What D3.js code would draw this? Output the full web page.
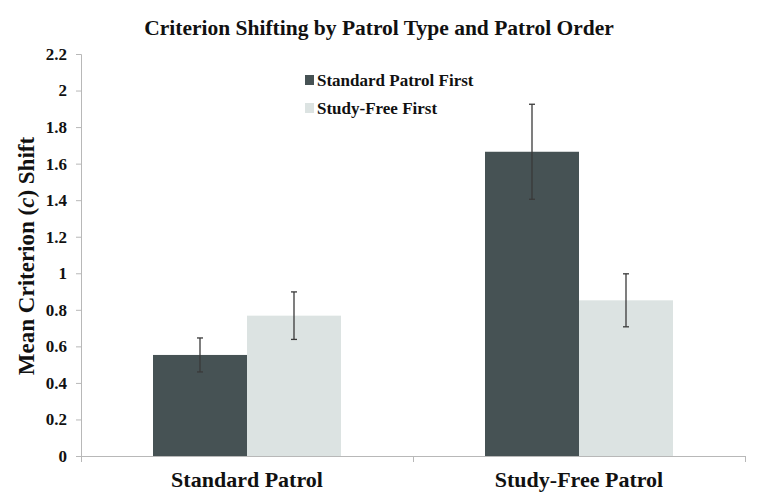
<!DOCTYPE html>
<html lang="en">
<head>
<meta charset="utf-8">
<title>Criterion Shifting</title>
<script src="https://d3js.org/d3.v7.min.js"></script>
<style>
  body { margin: 0; background: #fff; }
  text { font-family: "Liberation Serif", "Times New Roman", serif; font-weight: bold; fill: #111; }
</style>
</head>
<body>
<div id="chart"></div>
<script>
// chart data
var categories = ["Standard Patrol", "Study-Free Patrol"]
var seriesNames = ["Standard Patrol First", "Study-Free First"]
var standardFirst = [0.553, 1.665]
var standardFirstErr = [0.093, 0.26]
var studyFreeFirst = [0.768, 0.852]
var studyFreeFirstErr = [0.13, 0.145]
var yTicks = [0, 0.2, 0.4, 0.6, 0.8, 1, 1.2, 1.4, 1.6, 1.8, 2, 2.2]

var w = 758, h = 504
var mLeft = 81, mRight = 745, mTop = 54, mBottom = 456
var colors = ["#465254", "#dce3e2"]

var svg = d3.select("#chart").append("svg").attr("width", w).attr("height", h)

var yScale = d3.scaleLinear().domain([0, 2.2]).range([mBottom, mTop])
var xScale = d3.scaleBand().domain(categories).range([mLeft, mRight])
var xInner = d3.scaleBand().domain(seriesNames).range([0, 188])

// title
svg.append("text").attr("x", 379).attr("y", 35).attr("text-anchor", "middle")
  .style("font-size", "21.5px").text("Criterion Shifting by Patrol Type and Patrol Order")

// y axis
var yAxis = svg.append("g").attr("transform", "translate(" + mLeft + ",0)")
  .call(d3.axisLeft(yScale).tickValues(yTicks).tickSize(5).tickPadding(9).tickFormat(function(d){ return d3.format("~g")(d) }))
yAxis.selectAll("path, line").attr("stroke", "#b8b8b8")
yAxis.selectAll("text").style("font-size", "17px").style("font-family", "Liberation Serif").attr("fill", "#111")

// x axis
var xAxis = svg.append("g").attr("transform", "translate(0," + mBottom + ")")
  .call(d3.axisBottom(d3.scaleLinear().domain([0, 2]).range([mLeft, mRight])).tickValues([0, 1, 2]).tickSize(6).tickFormat(""))
xAxis.selectAll("path, line").attr("stroke", "#b8b8b8")

svg.selectAll(".cat").data(categories).enter().append("text")
  .attr("x", function(d){ return xScale(d) + xScale.bandwidth() / 2 })
  .attr("y", 487).attr("text-anchor", "middle").style("font-size", "22px")
  .text(function(d){ return d })

// axis title
var yt = svg.append("text").attr("transform", "translate(34,256) rotate(-90)")
  .attr("text-anchor", "middle").style("font-size", "23px")
yt.append("tspan").text("Mean Criterion (")
yt.append("tspan").style("font-style", "italic").text("c")
yt.append("tspan").text(") Shift")

// bars
var series = [
  {name: seriesNames[0], vals: standardFirst, errs: standardFirstErr, color: colors[0]},
  {name: seriesNames[1], vals: studyFreeFirst, errs: studyFreeFirstErr, color: colors[1]}
]
series.forEach(function(s){
  var g = svg.append("g")
  var offset = (xScale.bandwidth() - 188) / 2
  g.selectAll("rect").data(categories).enter().append("rect")
    .attr("x", function(d){ return xScale(d) + offset + xInner(s.name) })
    .attr("y", function(d, i){ return yScale(s.vals[i]) })
    .attr("width", xInner.bandwidth())
    .attr("height", function(d, i){ return mBottom - yScale(s.vals[i]) })
    .attr("fill", s.color)
  // error bars
  g.selectAll(".err").data(categories).enter().append("g").each(function(d, i){
    var cx = xScale(d) + offset + xInner(s.name) + xInner.bandwidth() / 2
    var y1 = yScale(s.vals[i] - s.errs[i]), y2 = yScale(s.vals[i] + s.errs[i])
    var e = d3.select(this)
    e.append("line").attr("x1", cx).attr("x2", cx).attr("y1", y1).attr("y2", y2)
    e.append("line").attr("x1", cx - 3).attr("x2", cx + 3).attr("y1", y1).attr("y2", y1)
    e.append("line").attr("x1", cx - 3).attr("x2", cx + 3).attr("y1", y2).attr("y2", y2)
    e.selectAll("line").attr("stroke", "#3a3a3a").attr("stroke-width", 1.3)
  })
})

// legend
var legend = svg.selectAll(".leg").data(series).enter().append("g")
  .attr("transform", function(d, i){ return "translate(305," + (86 + i * 28) + ")" })
legend.append("rect").attr("x", 0).attr("y", -11).attr("width", 9).attr("height", 10).attr("fill", function(d){ return d.color })
legend.append("text").attr("x", 12).attr("y", 0).style("font-size", "17px").text(function(d){ return d.name })
</script>
</body>
</html>
